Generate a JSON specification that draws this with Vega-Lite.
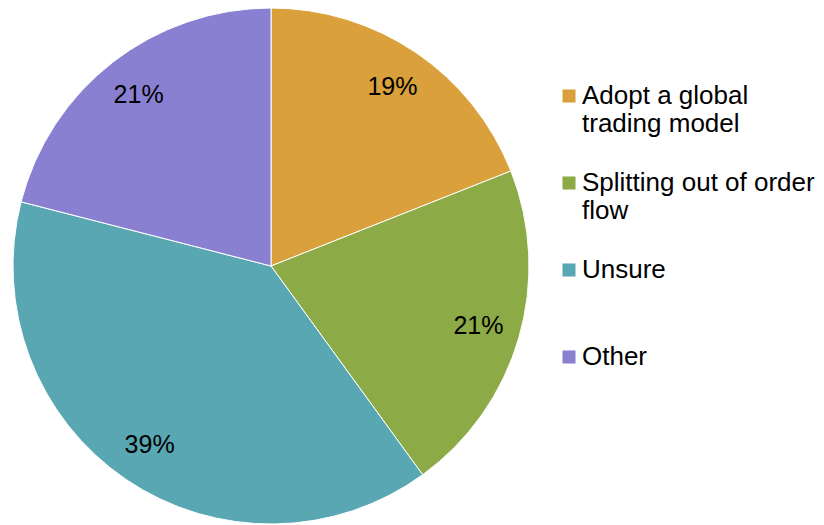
{
  "$schema": "https://vega.github.io/schema/vega-lite/v6.json",
  "width": 542,
  "height": 532,
  "autosize": {"type": "none"},
  "padding": {"left": 0, "top": 0, "right": 282, "bottom": 0},
  "background": "white",
  "config": {"view": {"stroke": null}, "font": "Liberation Sans"},
  "data": {
    "values": [
      {"category": "Adopt a global trading model", "value": 19, "label": "19%", "order": 1},
      {"category": "Splitting out of order flow", "value": 21, "label": "21%", "order": 2},
      {"category": "Unsure", "value": 39, "label": "39%", "order": 3},
      {"category": "Other", "value": 21, "label": "21%", "order": 4}
    ]
  },
  "encoding": {
    "theta": {"field": "value", "type": "quantitative", "stack": true},
    "order": {"field": "order", "type": "quantitative"},
    "color": {
      "field": "category",
      "type": "nominal",
      "sort": ["Adopt a global trading model", "Splitting out of order flow", "Unsure", "Other"],
      "scale": {
        "domain": ["Adopt a global trading model", "Splitting out of order flow", "Unsure", "Other"],
        "range": ["#D9A03B", "#8CAA45", "#59A7B3", "#8A80D2"]
      },
      "legend": {
        "title": null,
        "orient": "none",
        "legendX": 556,
        "legendY": 83,
        "symbolType": "square",
        "symbolSize": 170,
        "symbolStrokeWidth": 0,
        "labelFont": "Liberation Sans",
        "labelFontSize": 26,
        "labelLineHeight": 30,
        "labelColor": "#000000",
        "labelBaseline": "middle",
        "labelLimit": 400,
        "labelOffset": 0,
        "rowPadding": 33,
        "labelExpr": "datum.label == 'Adopt a global trading model' ? ['Adopt a global', 'trading model'] : datum.label == 'Splitting out of order flow' ? ['Splitting out of order', 'flow'] : [datum.label, ' ']"
      }
    }
  },
  "layer": [
    {
      "mark": {"type": "arc", "outerRadius": 258, "stroke": "white", "strokeWidth": 1}
    },
    {
      "mark": {"type": "text", "radius": 216, "fontSize": 25, "font": "Liberation Sans", "color": "#000000"},
      "encoding": {
        "text": {"field": "label", "type": "nominal"},
        "color": {"value": "#000000"}
      }
    }
  ]
}
